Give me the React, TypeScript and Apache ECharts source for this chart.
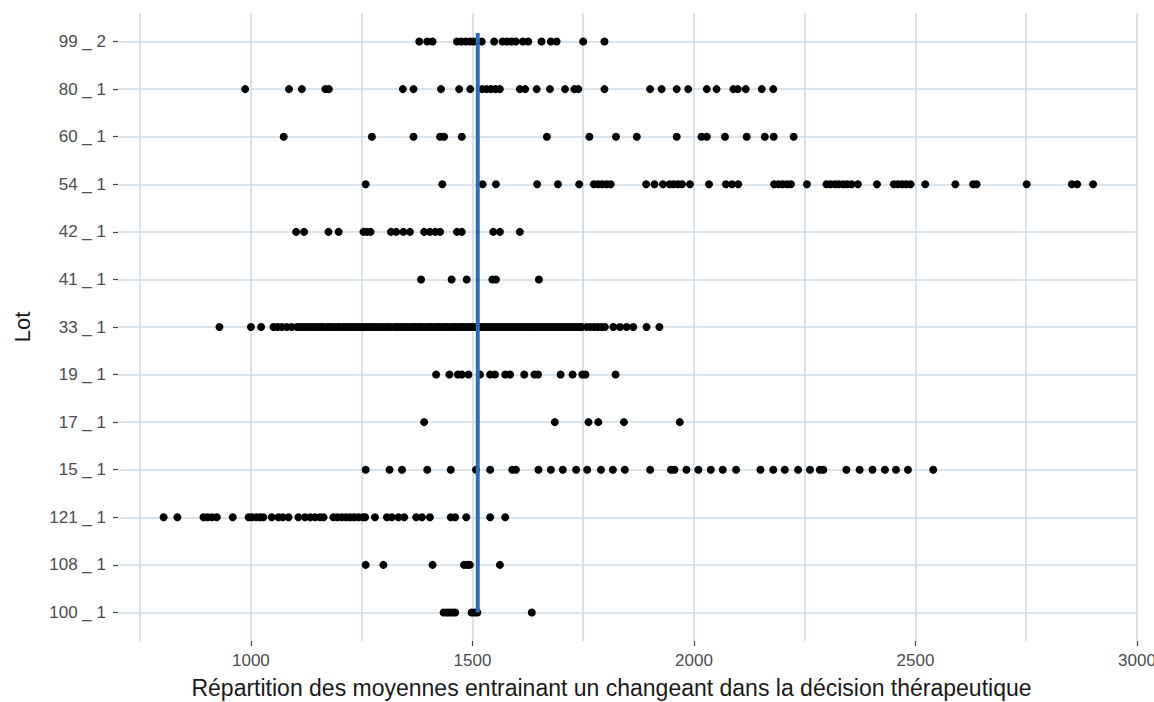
import React, { useEffect, useRef } from "react";
import * as echarts from "echarts";

// Lots, listed from the bottom row to the top row
const lots = [
  "100 _ 1", "108 _ 1", "121 _ 1", "15 _ 1", "17 _ 1", "19 _ 1", "33 _ 1",
  "41 _ 1", "42 _ 1", "54 _ 1", "60 _ 1", "80 _ 1", "99 _ 2",
];

// Moyennes per lot
const lot100_1 = [1435, 1442, 1448, 1455, 1461, 1498, 1505, 1511, 1634];
const lot108_1 = [1259, 1299, 1410, 1481, 1488, 1494, 1562];
const lot121_1 = [
  803, 834, 893, 902, 912, 923, 959, 995, 1002, 1012, 1021, 1028, 1047, 1062,
  1072, 1085, 1107, 1122, 1134, 1145, 1156, 1164, 1186, 1195, 1205, 1215, 1224,
  1233, 1243, 1253, 1258, 1280, 1307, 1318, 1333, 1346, 1373, 1386, 1404, 1451,
  1461, 1486, 1540, 1574,
];
const lot15_1 = [
  1259, 1313, 1341, 1398, 1451, 1508, 1540, 1590, 1598, 1649, 1677, 1704, 1734,
  1759, 1790, 1817, 1844, 1901, 1948, 1956, 1983, 2010, 2038, 2065, 2095, 2150,
  2179, 2205, 2235, 2262, 2284, 2292, 2344, 2374, 2403, 2431, 2456, 2483, 2540,
];
const lot17_1 = [1391, 1686, 1762, 1784, 1842, 1968];
const lot19_1 = [
  1418, 1448, 1467, 1476, 1491, 1517, 1540, 1551, 1574, 1585, 1617, 1640, 1648,
  1699, 1726, 1748, 1755, 1823,
];
const lot33_1 = [
  929, 1000, 1023, 1051, 1060, 1070, 1081, 1092, 1104, 1110, 1117, 1121, 1128,
  1135, 1139, 1146, 1152, 1158, 1163, 1171, 1177, 1182, 1189, 1196, 1200, 1207,
  1213, 1218, 1225, 1231, 1238, 1243, 1249, 1256, 1262, 1267, 1274, 1280, 1285,
  1292, 1298, 1305, 1309, 1316, 1324, 1329, 1335, 1342, 1347, 1353, 1360, 1366,
  1371, 1378, 1383, 1389, 1396, 1402, 1407, 1414, 1420, 1425, 1432, 1438, 1443,
  1450, 1457, 1461, 1468, 1474, 1479, 1486, 1492, 1498, 1503, 1510, 1516, 1521,
  1528, 1534, 1539, 1546, 1552, 1558, 1563, 1570, 1576, 1581, 1588, 1594, 1599,
  1606, 1612, 1617, 1624, 1630, 1636, 1641, 1648, 1653, 1659, 1666, 1672, 1677,
  1684, 1690, 1695, 1702, 1708, 1713, 1720, 1726, 1731, 1738, 1743, 1747, 1758,
  1766, 1775, 1783, 1791, 1799, 1818, 1833, 1848, 1863, 1893, 1922,
];
const lot41_1 = [1384, 1453, 1487, 1545, 1553, 1650];
const lot42_1 = [
  1102, 1120, 1175, 1198, 1254, 1262, 1270, 1316, 1328, 1344, 1359, 1391, 1404,
  1416, 1427, 1465, 1476, 1547, 1562, 1607,
];
const lot54_1 = [
  1259, 1432, 1523, 1553, 1646, 1693, 1741, 1774, 1784, 1793, 1803, 1812, 1892,
  1911, 1930, 1945, 1954, 1964, 1973, 1991, 2034, 2072, 2086, 2100, 2181, 2191,
  2200, 2210, 2219, 2255, 2299, 2308, 2318, 2327, 2337, 2346, 2356, 2370, 2413,
  2451, 2460, 2470, 2479, 2489, 2522, 2590, 2630, 2638, 2751, 2853, 2865, 2901,
];
const lot60_1 = [
  1074, 1273, 1367, 1427, 1436, 1476, 1668, 1764, 1824, 1871, 1961, 2017, 2029,
  2070, 2119, 2160, 2180, 2225,
];
const lot80_1 = [
  987, 1086, 1115, 1168, 1176, 1343, 1367, 1429, 1470, 1495, 1522, 1532, 1542,
  1552, 1562, 1607, 1619, 1645, 1675, 1709, 1730, 1739, 1798, 1901, 1927, 1961,
  1987, 2029, 2051, 2089, 2099, 2117, 2153, 2179,
];
const lot99_2 = [
  1380, 1398, 1410, 1465, 1475, 1485, 1495, 1503, 1521, 1549, 1568, 1578, 1588,
  1598, 1614, 1626, 1656, 1677, 1690, 1750, 1798,
];

const valuesByLot = [
  lot100_1, lot108_1, lot121_1, lot15_1, lot17_1, lot19_1, lot33_1,
  lot41_1, lot42_1, lot54_1, lot60_1, lot80_1, lot99_2,
];

// Reference mean drawn as a vertical segment across the lots
const meanValue = 1512;
const meanSpan = [1, 13.18];

// Axis ticks
const xLabelTicks = [1000, 1500, 2000, 2500, 3000];
const xGridTicks = [750, 1000, 1250, 1500, 1750, 2000, 2250, 2500, 2750, 3000];

export default function App() {
  const ref = useRef<HTMLDivElement>(null);

  useEffect(() => {
    if (!ref.current) return;
    const chart = echarts.init(ref.current, null, { renderer: "svg" });

    const points: number[][] = [];
    valuesByLot.forEach((vals, i) => {
      vals.forEach((v) => points.push([v, i + 1]));
    });
    const lotTicks = lots.map((_, i) => i + 1);

    const gridColor = "#cddcea";
    const font = "Liberation Sans, Arial, sans-serif";

    chart.setOption({
      animation: false,
      backgroundColor: "#ffffff",
      grid: {
        left: 118,
        right: 17,
        top: 13,
        bottom: 61,
        containLabel: false,
        outerBoundsMode: "none",
      },
      xAxis: [
        {
          type: "value",
          min: 700,
          max: 3000,
          position: "bottom",
          axisLine: { show: false },
          axisTick: { show: false, customValues: xGridTicks },
          axisLabel: { show: false },
          splitLine: { show: true, lineStyle: { color: gridColor, width: 1.6 } },
        },
        {
          type: "value",
          min: 700,
          max: 3000,
          position: "bottom",
          offset: 0,
          axisLine: { show: false },
          axisTick: {
            show: true,
            length: 5,
            customValues: xLabelTicks,
            lineStyle: { color: "#444", width: 1.2 },
          },
          axisLabel: {
            show: true,
            customValues: xLabelTicks,
            margin: 11,
            color: "#4d4d4d",
            fontSize: 17,
            fontFamily: font,
            formatter: (v: number) => String(v),
          },
          splitLine: { show: false },
          name: "Répartition des moyennes entrainant un changeant dans la décision thérapeutique",
          nameLocation: "middle",
          nameGap: 35,
          nameTextStyle: {
            color: "#1a1a1a",
            fontSize: 23,
            fontFamily: font,
            padding: [0, 32, 0, 0],
          },
        },
      ],
      yAxis: {
        type: "value",
        min: 0.4,
        max: 13.6,
        axisLine: { show: false },
        axisTick: {
          show: true,
          length: 5,
          customValues: lotTicks,
          lineStyle: { color: "#444", width: 1.2 },
        },
        axisLabel: {
          customValues: lotTicks,
          margin: 12,
          color: "#4d4d4d",
          fontSize: 17,
          fontFamily: font,
          formatter: (v: number) => lots[Math.round(v) - 1] ?? "",
        },
        splitLine: { show: true, lineStyle: { color: gridColor, width: 1.6 } },
        name: "Lot",
        nameLocation: "middle",
        nameGap: 85,
        nameRotate: 90,
        nameTextStyle: { color: "#1a1a1a", fontSize: 22, fontFamily: font },
      },
      series: [
        {
          type: "scatter",
          xAxisIndex: 0,
          data: points,
          symbol: "circle",
          symbolSize: 8,
          itemStyle: { color: "#000000", opacity: 1 },
          z: 2,
        },
        {
          type: "line",
          xAxisIndex: 0,
          data: meanSpan.map((y) => [meanValue, y]),
          symbol: "none",
          lineStyle: { color: "#2e6db4", width: 4, cap: "butt" },
          z: 3,
        },
      ],
    });

    return () => chart.dispose();
  }, []);

  return (
    <div
      ref={ref}
      style={{ position: "fixed", left: 0, top: 0, width: 1154, height: 702 }}
    />
  );
}
